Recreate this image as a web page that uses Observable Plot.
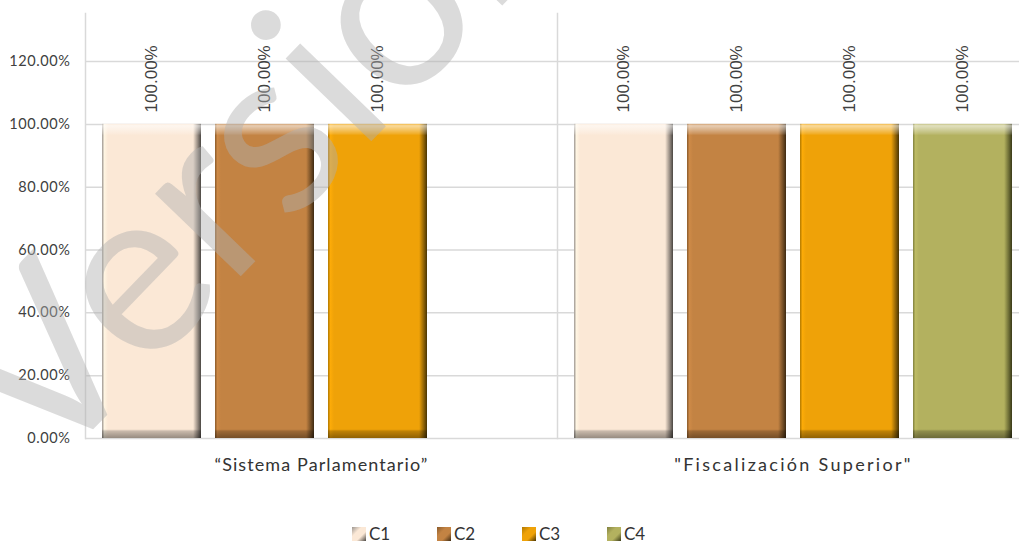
<!DOCTYPE html>
<html>
<head>
<meta charset="utf-8">
<script src="https://cdn.jsdelivr.net/npm/d3@7"></script>
<script src="https://cdn.jsdelivr.net/npm/@observablehq/plot@0.6"></script>
<style>
  html, body { margin: 0; padding: 0; background: #fff; }
  #wrap { position: relative; width: 1019px; height: 544px; overflow: hidden; }
  #legend { position: absolute; top: 525px; left: 352px; display: flex; align-items: center; font-family: Lato, "Open Sans", sans-serif; font-size: 17px; line-height: 17px; color: #333; }
  .item { display: flex; align-items: center; width: 85px; }
  .sw { width: 14px; height: 14px; margin-right: 3px; box-sizing: border-box; }
  #wm { position: absolute; left: 0; top: 0; pointer-events: none; font-family: Lato, sans-serif; font-size: 235px; line-height: 1.2; color: rgba(175,175,175,0.45); transform-origin: 0 0; white-space: nowrap; }
</style>
</head>
<body>
<div id="wrap"></div>
<script>
const groups = ["\u201CSistema Parlamentario\u201D", "\"Fiscalizaci\u00F3n Superior\""];
const series = ["C1", "C2", "C3", "C4"];
const sistemaValues = [1.0, 1.0, 1.0, null];
const fiscalizacionValues = [1.0, 1.0, 1.0, 1.0];
const yTicks = [0, 0.2, 0.4, 0.6, 0.8, 1.0, 1.2];
const baseColors = ["#FBE8D6", "#C38343", "#EFA208", "#B3B15F"];
const edgeLight = ["#9c9690", "#8a5a2a", "#b07800", "#80803e"];
const edgeDark = ["#4a4642", "#3e2a12", "#4a3504", "#3a3a18"];

const data = [];
[sistemaValues, fiscalizacionValues].forEach((vals, gi) => {
  vals.forEach((v, si) => { if (v != null) data.push({group: groups[gi], series: series[si], value: v}); });
});

const defs = () => {
  const svgDefs = d3.create("svg:defs");
  series.forEach((s, i) => {
    const g = svgDefs.append("linearGradient").attr("id", "g" + i).attr("x1", 0).attr("x2", 1).attr("y1", 0).attr("y2", 0);
    [[0, edgeLight[i]], [0.025, d3.color(baseColors[i]).brighter(0.15).formatHex()], [0.06, baseColors[i]], [0.92, baseColors[i]], [0.965, d3.interpolateRgb(baseColors[i], edgeDark[i])(0.55)], [1, edgeDark[i]]]
      .forEach(([o, c]) => g.append("stop").attr("offset", o).attr("stop-color", c));
  });
  const v = svgDefs.append("linearGradient").attr("id", "vbevel").attr("x1", 0).attr("x2", 0).attr("y1", 0).attr("y2", 1);
  [[0, "#fff", 0.25], [0.006, "#fff", 0.6], [0.02, "#fff", 0.35], [0.032, "#fff", 0.12], [0.036, "#fff", 0], [0.972, "#000", 0], [0.978, "#000", 0.2], [1, "#000", 0.4]]
    .forEach(([o, c, a]) => v.append("stop").attr("offset", o).attr("stop-color", c).attr("stop-opacity", a));
  return svgDefs.node();
};

const chart = Plot.plot({
  width: 1019,
  height: 500,
  marginLeft: 85,
  marginRight: -10,
  marginTop: 13,
  marginBottom: 62,
  style: {fontFamily: "Lato, sans-serif", background: "transparent", overflow: "visible"},
  fx: {domain: groups, padding: 0, label: null},
  x: {domain: series, paddingInner: 0.12, paddingOuter: 0.14, axis: null},
  y: {domain: [0, 1.353], label: null},
  color: {domain: series, range: series.map((s, i) => `url(#g${i})`)},
  marks: [
    defs,
    Plot.gridY(yTicks, {stroke: "#d9d9d9", strokeOpacity: 1, strokeWidth: 1.5}),
    Plot.frame({anchor: "left", stroke: "#d9d9d9", strokeWidth: 1.5}),
    Plot.axisY(yTicks, {tickSize: 0, tickPadding: 15, fontSize: 14.5, fill: "#404040", tickFormat: d => (d * 100).toFixed(2) + "%", label: null, facetAnchor: "left"}),
    Plot.axisFx({anchor: "bottom", tickSize: 0, tickPadding: 20, fontSize: 18, fill: "#333", label: null}),
    Plot.barY(data, {fx: "group", x: "series", y: "value", fill: "series"}),
    Plot.barY(data, {fx: "group", x: "series", y: "value", fill: "url(#vbevel)"}),
    Plot.text(data, {fx: "group", x: "series", y: "value", text: d => (d.value * 100).toFixed(2) + "%", rotate: -90, textAnchor: "start", dy: -12, fontSize: 17, fontFamily: "Liberation Sans, Arial, sans-serif", fill: "#404040"})
  ]
});
d3.select(chart).selectAll("g[aria-label='y-axis tick label'] text").style("letter-spacing", "0.6px");
d3.select(chart).selectAll("g[aria-label='fx-axis tick label'] text")
  .style("letter-spacing", function() { return this.textContent === groups[1] ? "2.3px" : "1.1px"; });

const wrap = document.getElementById("wrap");
wrap.appendChild(chart);

const legend = document.createElement("div");
legend.id = "legend";
series.forEach((s, i) => {
  const item = document.createElement("div");
  item.className = "item";
  const sw = document.createElement("div");
  sw.className = "sw";
  sw.style.background = `linear-gradient(135deg, ${edgeLight[i]} 0%, ${baseColors[i]} 35%, ${baseColors[i]} 65%, ${edgeDark[i]} 100%)`;
  const t = document.createElement("span");
  t.textContent = s;
  item.appendChild(sw);
  item.appendChild(t);
  legend.appendChild(item);
});
wrap.appendChild(legend);

const wm = document.createElement("div");
wm.id = "wm";
wm.textContent = "Versi\u00F3n";
wm.style.transform = "translate(-122px, 318px) rotate(-46deg)";
wrap.appendChild(wm);
</script>
</body>
</html>
